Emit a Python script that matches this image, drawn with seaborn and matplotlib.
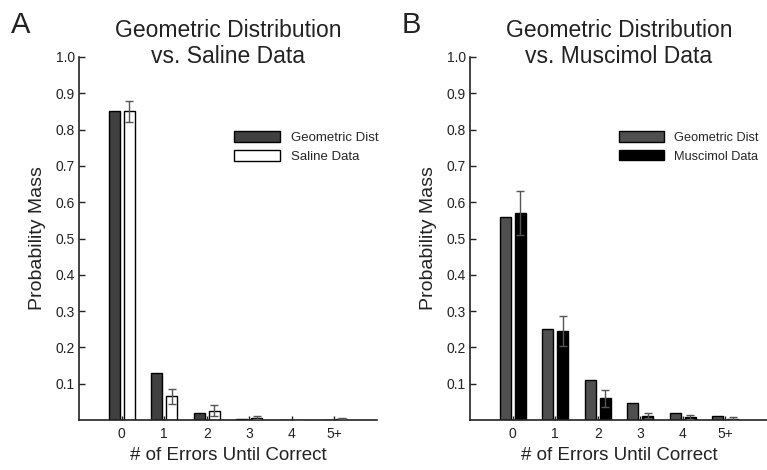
import numpy as np
import pandas as pd
import matplotlib
matplotlib.use("Agg")
import matplotlib.pyplot as plt
import seaborn as sns

# ---- data ----
categories = ["0", "1", "2", "3", "4", "5+"]

geom_saline = [0.85, 0.13, 0.018, 0.003, 0.0005, 0.0001]
saline = [0.85, 0.065, 0.025, 0.006, 0.0, 0.004]
saline_err = [0.03, 0.02, 0.015, 0.004, 0.0, 0.002]

geom_musc = [0.56, 0.25, 0.11, 0.048, 0.02, 0.01]
muscimol = [0.57, 0.245, 0.06, 0.012, 0.008, 0.004]
muscimol_err = [0.06, 0.042, 0.023, 0.006, 0.006, 0.003]

yticks = [0.1, 0.2, 0.3, 0.4, 0.5, 0.6, 0.7, 0.8, 0.9, 1.0]
ytick_labels = ["0.1", "0.2", "0.3", "0.4", "0.5", "0.6", "0.7", "0.8", "0.9", "1.0"]

sns.set_style("ticks")
plt.rcParams["font.family"] = ["Liberation Sans", "DejaVu Sans"]

fig = plt.figure(figsize=(7.67, 4.70), dpi=100)
W, H = 767.0, 470.0
axA = fig.add_axes([79 / W, (H - 420) / H, 298 / W, 363 / H])
axB = fig.add_axes([470 / W, (H - 420) / H, 298 / W, 363 / H])


def panel(ax, geom, data, err, data_label, geom_color, data_color, title, letter,
          leg_x, leg_fs):
    df = pd.DataFrame({
        "cat": categories * 2,
        "val": list(geom) + list(data),
        "series": ["Geometric Dist"] * len(categories) + [data_label] * len(categories),
    })
    sns.barplot(data=df, x="cat", y="val", hue="series",
                hue_order=["Geometric Dist", data_label],
                palette=[geom_color, data_color], order=categories,
                width=0.7, gap=0.26, edgecolor="black", linewidth=1.0,
                errorbar=None, legend=False, saturation=1, ax=ax)
    bars = ax.containers[1]
    xs = [b.get_x() + b.get_width() / 2 for b in bars]
    ax.errorbar(xs, data, yerr=err, fmt="none", ecolor="#555555",
                elinewidth=1.0, capsize=3, capthick=1.0, zorder=5)
    ax.set_xlim(-1, 6)
    ax.set_ylim(0, 1.0)
    ax.set_yticks(yticks)
    ax.set_yticklabels(ytick_labels)
    for s in ["top", "right"]:
        ax.spines[s].set_visible(False)
    for s in ["left", "bottom"]:
        ax.spines[s].set_linewidth(1.2)
        ax.spines[s].set_color("#222222")
    ax.tick_params(axis="y", direction="in", length=4, width=1, labelsize=10,
                   pad=3, colors="#222222")
    ax.tick_params(axis="x", direction="in", length=3, width=1, labelsize=10,
                   pad=5, colors="#222222")
    ax.set_xlabel("# of Errors Until Correct", fontsize=13.5, color="#222222",
                  labelpad=4)
    ax.set_ylabel("Probability Mass", fontsize=14, color="#222222", labelpad=7)
    ax.legend(list(ax.containers), ["Geometric Dist", data_label],
              loc="upper left", bbox_to_anchor=(leg_x, 0.795), frameon=False,
              fontsize=leg_fs, handlelength=3.5, handleheight=0.9,
              labelspacing=0.45, handletextpad=0.8, borderaxespad=0, borderpad=0)
    ax.text(0.5, 0.983, title, transform=ax.transAxes, ha="center",
            va="baseline", fontsize=16.5, color="#222222", linespacing=1.15)
    ax.text(-0.23, 1.065, letter, transform=ax.transAxes, ha="left",
            va="baseline", fontsize=21, color="#222222")


panel(axA, geom_saline, saline, saline_err, "Saline Data", "#404040", "white",
      "Geometric Distribution\nvs. Saline Data", "A", 0.52, 9.5)
panel(axB, geom_musc, muscimol, muscimol_err, "Muscimol Data", "#4f4f4f", "black",
      "Geometric Distribution\nvs. Muscimol Data", "B", 0.50, 9.2)

fig.savefig("out.png", dpi=100)
